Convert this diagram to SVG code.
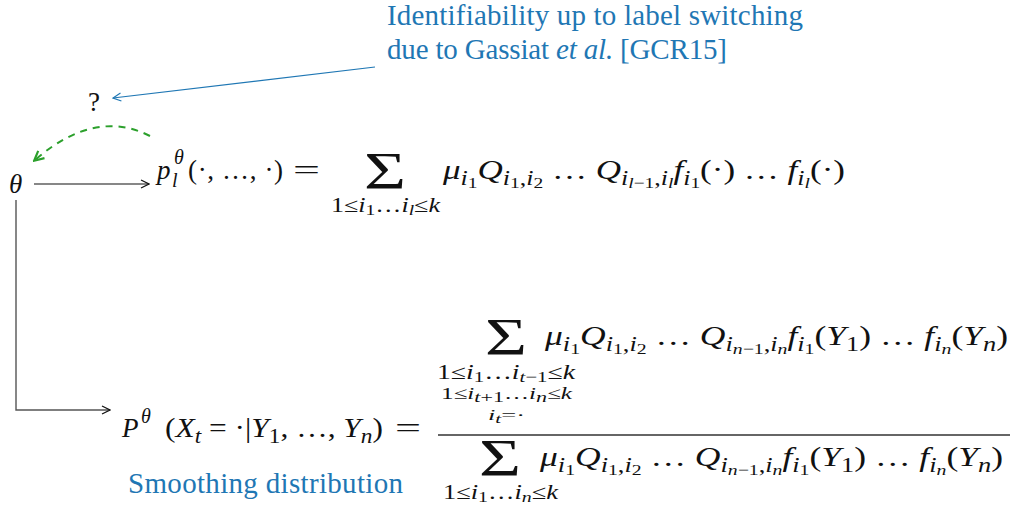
<svg xmlns="http://www.w3.org/2000/svg" width="1012" height="513" viewBox="0 0 1012 513">
<style>
.m{font-family:'Liberation Serif',serif;font-size:27px;fill:#111}
.it{font-style:italic}
.s{font-size:20px}
.ss{font-size:15px}
.s2{font-size:17px}
.blue{font-family:'Liberation Serif',serif;font-size:29px;fill:#1f77b4}
.sum{font-family:'Liberation Serif',serif;font-size:52px;fill:#111}
</style>
<defs>
<marker id="ak" viewBox="0 0 10 10" refX="9" refY="5" markerWidth="10" markerHeight="10" markerUnits="userSpaceOnUse" orient="auto"><path d="M1,1 L9,5 L1,9" fill="none" stroke="#111" stroke-width="1.2"/></marker>
<marker id="ab" viewBox="0 0 10 10" refX="9" refY="5" markerWidth="10" markerHeight="10" markerUnits="userSpaceOnUse" orient="auto"><path d="M1,1 L9,5 L1,9" fill="none" stroke="#1f77b4" stroke-width="1.2"/></marker>
<marker id="ag" viewBox="0 0 10 10" refX="8" refY="5" markerWidth="12" markerHeight="12" markerUnits="userSpaceOnUse" orient="auto"><path d="M1,1 L9,5 L1,9" fill="none" stroke="#2ca02c" stroke-width="1.8"/></marker>
</defs>

<g id="connectors" fill="none">
<path d="M34,184 H149" stroke="#111" stroke-width="1.2" marker-end="url(#ak)"/>
<path d="M16,200 V410 H110" stroke="#555" stroke-width="1.4" marker-end="url(#ak)"/>
<path d="M375,67 L113,98" stroke="#1f77b4" stroke-width="1.2" marker-end="url(#ab)"/>
<path d="M150,136 Q95,108 35,160" stroke="#2ca02c" stroke-width="2" stroke-dasharray="7,6" marker-end="url(#ag)"/>
</g>

<g id="theta">
<text class="m it" x="9" y="193">θ</text>
</g>

<g id="question">
<text class="m" x="88" y="111" font-size="25">?</text>
</g>

<g id="marginal">
<text class="m it" x="157" y="179">p</text>
<text class="m it s" x="174" y="164">θ</text>
<text class="m it s" x="172" y="187">l</text>
<text class="m" x="188" y="179" textLength="95">(·, …, ·)</text>
<text class="m" x="293" y="179" textLength="27" lengthAdjust="spacingAndGlyphs">=</text>
<text class="sum" x="364" y="189" textLength="42" lengthAdjust="spacingAndGlyphs">Σ</text>
<text class="m s" x="331" y="212" textLength="109" lengthAdjust="spacingAndGlyphs">1≤<tspan class="it">i</tspan><tspan class="ss" y="215">1</tspan><tspan y="212">…</tspan><tspan class="it">i</tspan><tspan class="ss it" y="215">l</tspan><tspan y="212">≤</tspan><tspan class="it">k</tspan></text>
<text class="m" x="443" y="179" textLength="402" lengthAdjust="spacingAndGlyphs"><tspan class="it">μ</tspan><tspan class="s it" y="185">i</tspan><tspan class="ss" y="188">1</tspan><tspan class="it" y="179">Q</tspan><tspan class="s it" y="185">i</tspan><tspan class="ss" y="188">1</tspan><tspan class="s" y="185">,</tspan><tspan class="s it">i</tspan><tspan class="ss" y="188">2</tspan><tspan y="179"> … </tspan><tspan class="it">Q</tspan><tspan class="s it" y="185">i</tspan><tspan class="ss" y="188"><tspan class="it">l</tspan>−1</tspan><tspan class="s" y="185">,</tspan><tspan class="s it">i</tspan><tspan class="ss it" y="188">l</tspan><tspan class="it" y="179">f</tspan><tspan class="s it" y="185">i</tspan><tspan class="ss" y="188">1</tspan><tspan y="179">(·) … </tspan><tspan class="it">f</tspan><tspan class="s it" y="185">i</tspan><tspan class="ss it" y="188">l</tspan><tspan y="179">(·)</tspan></text>
</g>

<g id="smoothing">
<text class="m it" x="122" y="437">P</text>
<text class="m it s" x="141" y="423">θ</text>
<text class="m" x="165" y="437" textLength="218" lengthAdjust="spacingAndGlyphs">(<tspan class="it">X</tspan><tspan class="s it" y="443">t</tspan><tspan y="437"> = ·|</tspan><tspan class="it">Y</tspan><tspan class="s" y="443">1</tspan><tspan y="437">, …, </tspan><tspan class="it">Y</tspan><tspan class="s it" y="443">n</tspan><tspan y="437">)</tspan></text>
<text class="m" x="395" y="437" textLength="26" lengthAdjust="spacingAndGlyphs">=</text>
<line x1="438" y1="435" x2="1010" y2="435" stroke="#333" stroke-width="1.4"/>
<text class="sum" x="485" y="355" textLength="42" lengthAdjust="spacingAndGlyphs">Σ</text>
<text class="m s" x="437" y="379" textLength="138" lengthAdjust="spacingAndGlyphs">1≤<tspan class="it">i</tspan><tspan class="ss" y="382">1</tspan><tspan y="379">…</tspan><tspan class="it">i</tspan><tspan class="ss" y="382"><tspan class="it">t</tspan>−1</tspan><tspan y="379">≤</tspan><tspan class="it">k</tspan></text>
<text class="m s2" x="441" y="399" textLength="131" lengthAdjust="spacingAndGlyphs">1≤<tspan class="it">i</tspan><tspan class="ss" y="402"><tspan class="it">t</tspan>+1</tspan><tspan y="399">…</tspan><tspan class="it">i</tspan><tspan class="ss it" y="402">n</tspan><tspan y="399">≤</tspan><tspan class="it">k</tspan></text>
<text class="m ss" x="488" y="420" textLength="37" lengthAdjust="spacingAndGlyphs"><tspan class="it">i</tspan><tspan font-size="12" class="it" y="423">t</tspan><tspan y="420">=·</tspan></text>
<text class="m" x="545" y="345" textLength="463" lengthAdjust="spacingAndGlyphs"><tspan class="it">μ</tspan><tspan class="s it" y="351">i</tspan><tspan class="ss" y="354">1</tspan><tspan class="it" y="345">Q</tspan><tspan class="s it" y="351">i</tspan><tspan class="ss" y="354">1</tspan><tspan class="s" y="351">,</tspan><tspan class="s it">i</tspan><tspan class="ss" y="354">2</tspan><tspan y="345"> … </tspan><tspan class="it">Q</tspan><tspan class="s it" y="351">i</tspan><tspan class="ss" y="354"><tspan class="it">n</tspan>−1</tspan><tspan class="s" y="351">,</tspan><tspan class="s it">i</tspan><tspan class="ss it" y="354">n</tspan><tspan class="it" y="345">f</tspan><tspan class="s it" y="351">i</tspan><tspan class="ss" y="354">1</tspan><tspan y="345">(</tspan><tspan class="it">Y</tspan><tspan class="s" y="351">1</tspan><tspan y="345">) … </tspan><tspan class="it">f</tspan><tspan class="s it" y="351">i</tspan><tspan class="ss it" y="354">n</tspan><tspan y="345">(</tspan><tspan class="it">Y</tspan><tspan class="s it" y="351">n</tspan><tspan y="345">)</tspan></text>
<text class="sum" x="479" y="476" textLength="42" lengthAdjust="spacingAndGlyphs">Σ</text>
<text class="m s" x="443" y="499" textLength="115" lengthAdjust="spacingAndGlyphs">1≤<tspan class="it">i</tspan><tspan class="ss" y="502">1</tspan><tspan y="499">…</tspan><tspan class="it">i</tspan><tspan class="ss it" y="502">n</tspan><tspan y="499">≤</tspan><tspan class="it">k</tspan></text>
<text class="m" x="540" y="466" textLength="463" lengthAdjust="spacingAndGlyphs"><tspan class="it">μ</tspan><tspan class="s it" y="472">i</tspan><tspan class="ss" y="475">1</tspan><tspan class="it" y="466">Q</tspan><tspan class="s it" y="472">i</tspan><tspan class="ss" y="475">1</tspan><tspan class="s" y="472">,</tspan><tspan class="s it">i</tspan><tspan class="ss" y="475">2</tspan><tspan y="466"> … </tspan><tspan class="it">Q</tspan><tspan class="s it" y="472">i</tspan><tspan class="ss" y="475"><tspan class="it">n</tspan>−1</tspan><tspan class="s" y="472">,</tspan><tspan class="s it">i</tspan><tspan class="ss it" y="475">n</tspan><tspan class="it" y="466">f</tspan><tspan class="s it" y="472">i</tspan><tspan class="ss" y="475">1</tspan><tspan y="466">(</tspan><tspan class="it">Y</tspan><tspan class="s" y="472">1</tspan><tspan y="466">) … </tspan><tspan class="it">f</tspan><tspan class="s it" y="472">i</tspan><tspan class="ss it" y="475">n</tspan><tspan y="466">(</tspan><tspan class="it">Y</tspan><tspan class="s it" y="472">n</tspan><tspan y="466">)</tspan></text>
</g>

<g id="note-identifiability">
<text class="blue" x="387" y="25" textLength="416">Identifiability up to label switching</text>
<text class="blue" x="387" y="59" textLength="340">due to Gassiat <tspan font-style="italic">et al.</tspan> [GCR15]</text>
</g>

<g id="note-smoothing">
<text class="blue" x="128" y="493" textLength="275">Smoothing distribution</text>
</g>
</svg>
